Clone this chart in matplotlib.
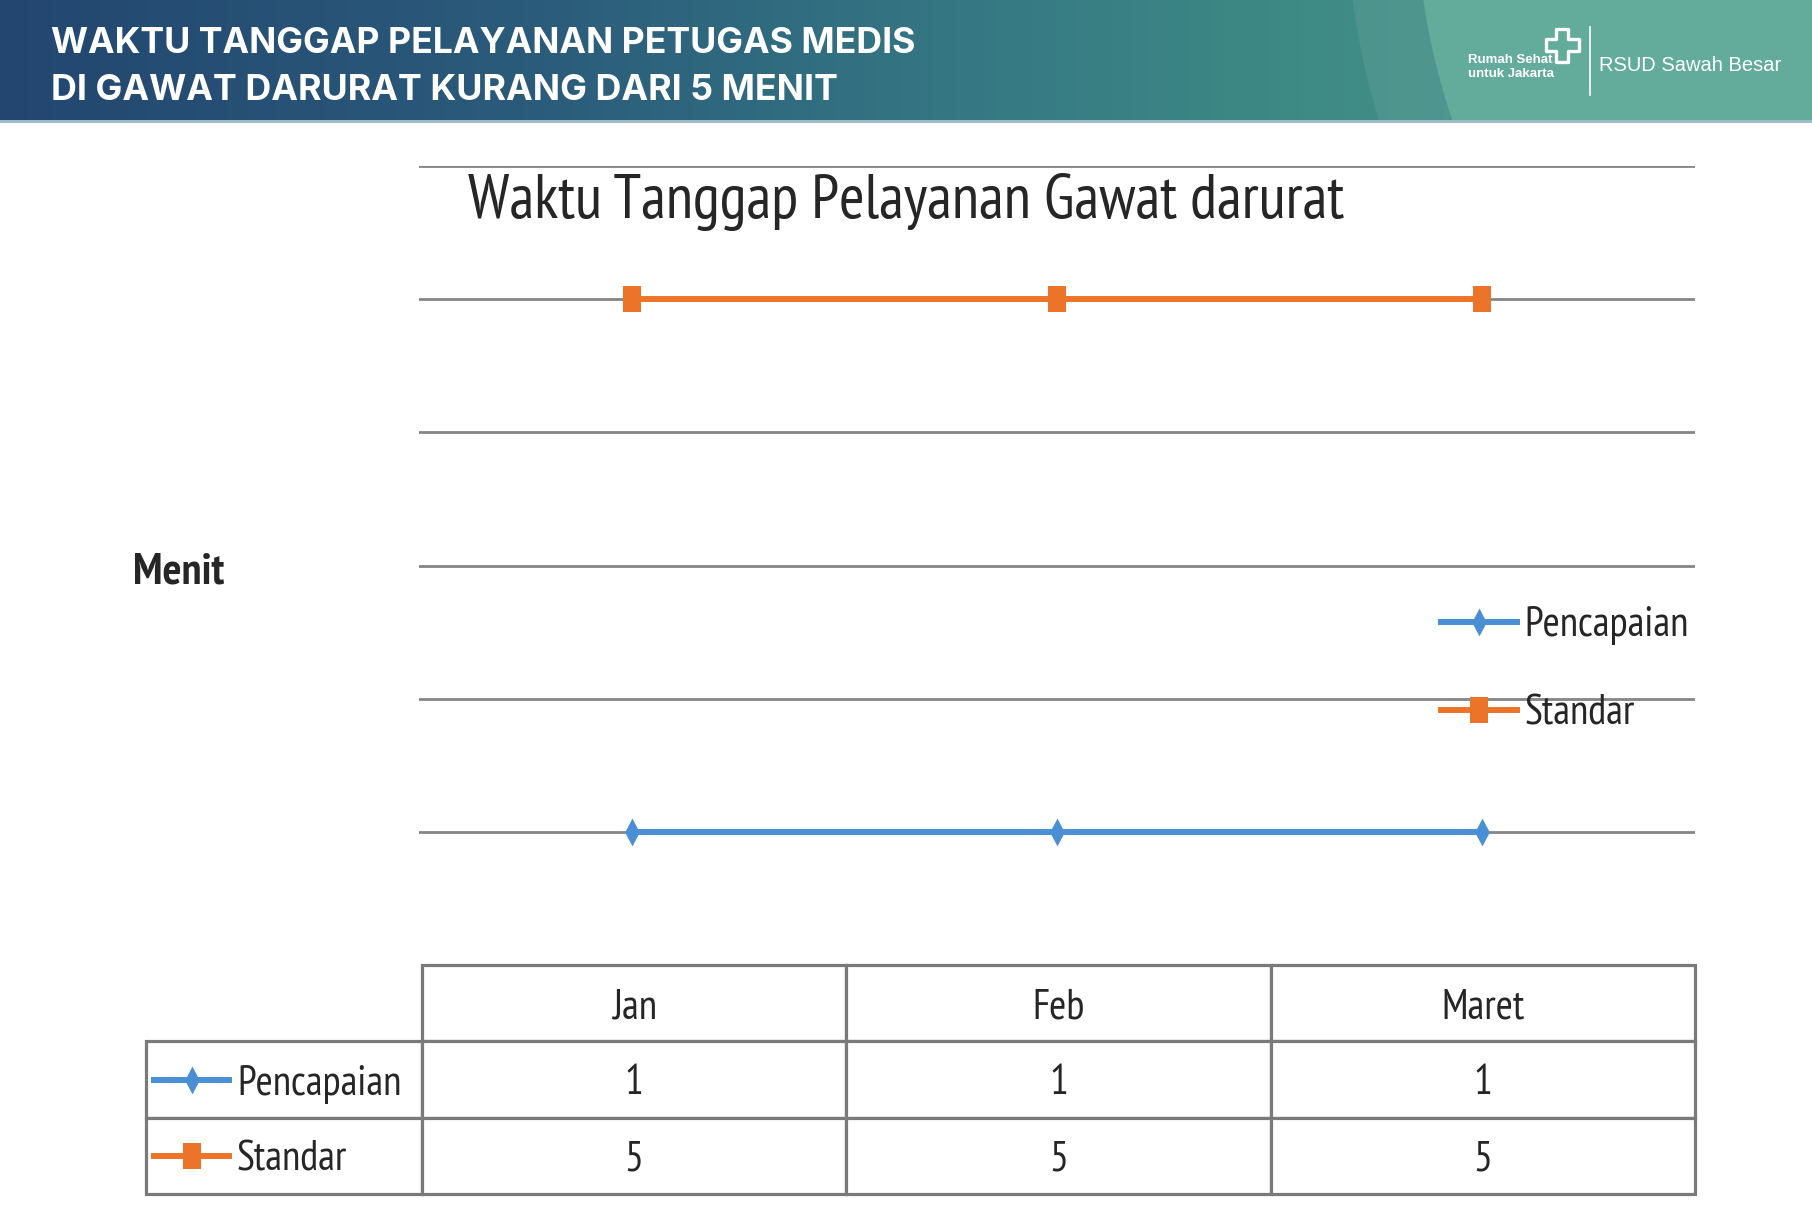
import matplotlib
matplotlib.use('Agg')
import matplotlib.pyplot as plt
import numpy as np
from matplotlib.colors import LinearSegmentedColormap
from matplotlib.patches import Circle, PathPatch
from matplotlib.path import Path
from matplotlib import font_manager as fm

# ---------------- data ----------------
months = ['Jan', 'Feb', 'Maret']
pencapaian = [1, 1, 1]
standar = [5, 5, 5]
series_names = ['Pencapaian', 'Standar']
chart_title = 'Waktu Tanggap Pelayanan Gawat darurat'
y_label = 'Menit'
y_grid = [1, 2, 3, 4, 5, 6]
header_lines = ['WAKTU TANGGAP PELAYANAN PETUGAS MEDIS', 'DI GAWAT DARURAT KURANG DARI 5 MENIT']
logo_small = ['Rumah Sehat', 'untuk Jakarta']
logo_name = 'RSUD Sawah Besar'

W, H = 1812, 1230
CH = ['PT Sans Narrow', 'DejaVu Sans']
BLUE = '#4a8fd6'
ORANGE = '#ec7428'
GRID = '#858585'
TXT = '#262626'


def pick_font(cands, target=700):
    for c in cands:
        best = None
        for f in fm.fontManager.ttflist:
            w = f.weight if isinstance(f.weight, (int, float)) else 400
            if f.name == c and f.style == 'normal' and f.stretch == 'normal' and w >= 600:
                if best is None or abs(w - target) < abs(best[0] - target):
                    best = (w, f.fname)
        if best:
            return best[1]
    return None


hdr_path = pick_font(['Plus Jakarta Sans', 'Manrope', 'Inter', 'Poppins',
                      'Montserrat', 'Open Sans'])
if hdr_path:
    HPROP = fm.FontProperties(fname=hdr_path)
else:
    HPROP = fm.FontProperties(family='DejaVu Sans', weight='bold')

fig = plt.figure(figsize=(W / 100, H / 100), dpi=100)
fig.patch.set_facecolor('white')


def fx(px):
    return px / W


def fy(py):
    return 1 - py / H


def fit_width(txt, target_px):
    fig.canvas.draw()
    r = fig.canvas.get_renderer()
    w = txt.get_window_extent(r).width
    txt.set_fontsize(txt.get_fontsize() * target_px / w)


# ---------------- header ----------------
hh = 120
hax = fig.add_axes([0, fy(hh), 1, hh / H])
hax.set_xlim(0, W)
hax.set_ylim(hh, 0)
hax.axis('off')
cmap = LinearSegmentedColormap.from_list('hdr', [
    (0.0, '#234670'), (0.30, '#2b5c7b'), (0.55, '#367a84'),
    (0.72, '#3e8a84'), (1.0, '#4f9c90')])
grad = np.linspace(0, 1, 512)[None, :]
hax.imshow(grad, aspect='auto', cmap=cmap, extent=[0, W, hh, 0], zorder=0)
outer = Circle((2102, -100), 756, facecolor='white', alpha=0.07, edgecolor='none', zorder=1)
inner = Circle((2102, -100), 686, facecolor='#63ab9b', edgecolor='none', zorder=2)
hax.add_patch(outer)
hax.add_patch(inner)
outer.set_clip_path(hax.patch)
inner.set_clip_path(hax.patch)
fig.add_artist(plt.Rectangle((0, fy(123)), 1, 3 / H, transform=fig.transFigure,
                             facecolor='#9fbccb', edgecolor='none'))

h1 = fig.text(fx(51), fy(53), header_lines[0], color='white',
              fontproperties=HPROP, va='baseline', ha='left')
h2 = fig.text(fx(51), fy(100), header_lines[1], color='white',
              fontproperties=HPROP, va='baseline', ha='left')
h1.set_fontsize(28)
h2.set_fontsize(28)

LF = ['Liberation Sans', 'Arimo', 'DejaVu Sans']
fig.text(fx(1468), fy(63), logo_small[0], color='white', fontsize=9.5,
         fontweight='bold', family=LF, va='baseline', ha='left')
fig.text(fx(1468), fy(77), logo_small[1], color='white', fontsize=9.5,
         fontweight='bold', family=LF, va='baseline', ha='left')
fig.text(fx(1599), fy(71), logo_name, color='white', fontsize=14.5,
         family=LF, va='baseline', ha='left')
hax.plot([1590, 1590], [27, 95], color='white', lw=1.2, zorder=5)
cx, cy = 1562, 45
a, t = 16.5, 6
pts = [(-t, -a), (t, -a), (t, -t), (a, -t), (a, t), (t, t), (t, a), (-t, a),
       (-t, t), (-a, t), (-a, -t), (-t, -t), (-t, -a)]
verts = [(cx + px, cy + py) for px, py in pts]
cross = PathPatch(Path(verts, closed=True), facecolor='none', edgecolor='white',
                  lw=2.4, joinstyle='round', zorder=5)
hax.add_patch(cross)

# ---------------- main chart ----------------
ax_l, ax_r, ax_t, ax_b = 419, 1695, 166, 965
ax = fig.add_axes([fx(ax_l), fy(ax_b), (ax_r - ax_l) / W, (ax_b - ax_t) / H])
x = np.arange(len(months))
ax.set_xlim(-0.5, len(months) - 0.5)
ax.set_ylim(0, 6)
ax.set_yticks(y_grid)
ax.set_yticklabels([])
ax.set_xticks([])
ax.tick_params(length=0)
ax.yaxis.grid(True, color=GRID, lw=2.0)
ax.set_axisbelow(True)
for s in ax.spines.values():
    s.set_visible(False)
ax.patch.set_alpha(0)

diamond = [(0, -1), (0.53, 0), (0, 1), (-0.53, 0), (0, -1)]
rect = [(-0.72, -1), (0.72, -1), (0.72, 1), (-0.72, 1), (-0.72, -1)]
ax.plot(x, pencapaian, color=BLUE, lw=4.3, marker=diamond, markersize=20,
        markeredgewidth=0, label=series_names[0], zorder=3)
ax.plot(x, standar, color=ORANGE, lw=4.3, marker=rect, markersize=18.5,
        markeredgewidth=0, label=series_names[1], zorder=3)

leg = ax.legend(loc='center left', bbox_to_anchor=(fx(1441), fy(670)),
                bbox_transform=fig.transFigure, frameon=False,
                prop={'family': CH, 'size': 30}, handlelength=1.82,
                handletextpad=0.18, labelspacing=1.18, borderpad=0,
                borderaxespad=0)
for t_ in leg.get_texts():
    t_.set_color(TXT)

title = fig.text(fx(468), fy(218), chart_title, family=CH, fontsize=45, color=TXT,
                 va='baseline', ha='left')
fig.text(fx(133), fy(583), y_label, family=CH, fontsize=32, fontweight='bold',
         color=TXT, va='baseline', ha='left')

# ---------------- data table ----------------
tl, tr, tt, tb = 146, 1695, 965, 1194
tax = fig.add_axes([fx(tl), fy(tb), (tr - tl) / W, (tb - tt) / H])
tax.set_xlim(0, 1)
tax.set_ylim(0, 1)
tax.axis('off')
label_w = (422 - tl) / (tr - tl)
col_w = (1 - label_w) / len(months)
cell_text = [[str(v) for v in pencapaian], [str(v) for v in standar]]
tbl = tax.table(cellText=cell_text, rowLabels=series_names, colLabels=months,
                colWidths=[col_w] * len(months),
                cellLoc='center', rowLoc='left',
                bbox=[label_w, 0, 1 - label_w, 1])
tbl._autoColumns = []
tbl.auto_set_font_size(False)
for (r, c), cell in tbl.get_celld().items():
    cell.set_edgecolor('#7a7a7a')
    cell.set_linewidth(2.3)
    cell.get_text().set_fontsize(30)
    cell.get_text().set_fontfamily(CH)
    cell.get_text().set_color(TXT)
    cell.get_text().set_verticalalignment('center_baseline')
    if c == -1:
        cell.set_width(label_w)
        cell.PAD = (237 - tl) / (422 - tl)

key_x0 = (154 - tl) / (tr - tl)
key_x1 = (229 - tl) / (tr - tl)
key_xm = (key_x0 + key_x1) / 2
for yv, col, mk, ms in [(0.5, BLUE, diamond, 20), (1 / 6, ORANGE, rect, 18.5)]:
    tax.plot([key_x0, key_xm, key_x1], [yv, yv, yv], color=col, lw=4.3,
             marker=mk, markersize=ms, markeredgewidth=0, markevery=[1],
             clip_on=False, zorder=5)

# fit the wide texts to the widths measured on the reference
fit_width(h1, 864)
fit_width(h2, 786)
fit_width(title, 876)

fig.savefig('out.png', dpi=100, facecolor='white')
